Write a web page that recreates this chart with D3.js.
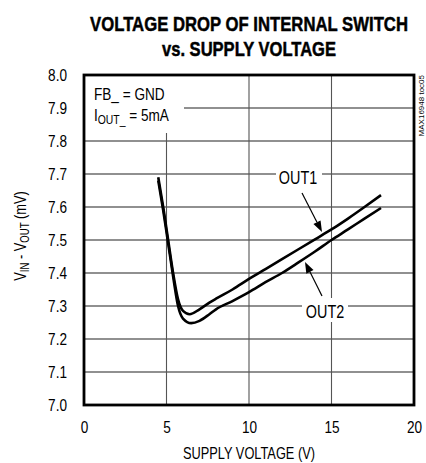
<!DOCTYPE html>
<html><head><meta charset="utf-8">
<script src="https://cdn.jsdelivr.net/npm/d3@7"></script>
<style>
html,body{margin:0;padding:0;background:#fff;}
svg{display:block;}
text{font-family:"Liberation Sans Narrow","Arial Narrow","Liberation Sans",Arial,sans-serif;fill:#000;}
</style></head>
<body>
<svg id="c" width="426" height="463"></svg>
<script>
const xTicks = [0, 5, 10, 15, 20];
const yTicks = [7.0, 7.1, 7.2, 7.3, 7.4, 7.5, 7.6, 7.7, 7.8, 7.9, 8.0];
const out1V = [4.5, 4.8, 5.1, 5.4, 5.7, 6.0, 6.4, 7.0, 7.6, 8.0, 9, 10, 11, 12, 13, 14, 15, 16, 17, 18];
const out1Y = [7.69, 7.6, 7.5, 7.4, 7.32, 7.285, 7.275, 7.29, 7.31, 7.322, 7.35, 7.382, 7.412, 7.442, 7.472, 7.502, 7.532, 7.565, 7.60, 7.636];
const out2V = [4.5, 4.8, 5.1, 5.4, 5.7, 6.0, 6.5, 7.0, 7.6, 8.0, 9, 10, 11, 12, 13, 14, 15, 16, 17, 18];
const out2Y = [7.68, 7.59, 7.49, 7.39, 7.3, 7.262, 7.248, 7.255, 7.275, 7.29, 7.315, 7.342, 7.372, 7.40, 7.432, 7.465, 7.50, 7.532, 7.565, 7.597];
const titleLines = ["VOLTAGE DROP OF INTERNAL SWITCH", "vs. SUPPLY VOLTAGE"];

const svg = d3.select("#c");
const L = 84, R = 414, T = 75, B = 405;
const CX = 0.8; // horizontal condensing
const x = d3.scaleLinear().domain([0, 20]).range([L, R]);
const y = d3.scaleLinear().domain([7.0, 8.0]).range([B, T]);

function ctext(px, py, anchor, size, str, parent) {
  return (parent || svg).append("text")
    .attr("transform", `translate(${px},${py}) scale(${CX},1)`)
    .attr("text-anchor", anchor).attr("font-size", size).text(str);
}

// title: scaled to the measured target widths
[[titleLines[0], 31, 318], [titleLines[1], 56, 174]].forEach(([s, ty, w]) => {
  const t = svg.append("text").attr("text-anchor", "middle")
    .attr("font-weight", "bold").attr("font-size", 21).attr("stroke", "#000").attr("stroke-width", 0.5)
    .text(s);
  const nat = t.node().getComputedTextLength();
  t.attr("transform", `translate(249,${ty}) scale(${w / nat},1)`);
});

// grid
const g = svg.append("g");
g.selectAll(".hg").data(yTicks.slice(1, -1)).enter().append("line")
  .attr("x1", L).attr("x2", R).attr("y1", d => y(d)).attr("y2", d => y(d))
  .attr("stroke", "#222").attr("stroke-width", 1.1);
g.selectAll(".vg").data(xTicks.slice(1, -1)).enter().append("line")
  .attr("y1", T).attr("y2", B).attr("x1", d => x(d)).attr("x2", d => x(d))
  .attr("stroke", "#555").attr("stroke-width", 1.1);

// white boxes behind labels
svg.append("rect").attr("x", L).attr("y", T).attr("width", 100).attr("height", 58).attr("fill", "#fff");
svg.append("rect").attr("x", 276).attr("y", 166).attr("width", 46).attr("height", 22).attr("fill", "#fff");
svg.append("rect").attr("x", 302).attr("y", 298).attr("width", 46).attr("height", 24).attr("fill", "#fff");

// curves
const line = d3.line().x(d => x(d[0])).y(d => y(d[1])).curve(d3.curveMonotoneX);
const s1 = out1V.map((v, i) => [v, out1Y[i]]);
const s2 = out2V.map((v, i) => [v, out2Y[i]]);
[s1, s2].forEach(s => svg.append("path").datum(s).attr("d", line)
  .attr("fill", "none").attr("stroke", "#000").attr("stroke-width", 2.6));

// border
svg.append("rect").attr("x", L).attr("y", T).attr("width", R - L).attr("height", B - T)
  .attr("fill", "none").attr("stroke", "#000").attr("stroke-width", 2.8);

// axes (labels only, condensed)
const ya = d3.axisLeft(y).tickValues(yTicks).tickFormat(d3.format(".1f")).tickSize(0).tickPadding(17);
const yg = svg.append("g").attr("transform", `translate(${L},0)`).call(ya);
const xa = d3.axisBottom(x).tickValues(xTicks).tickFormat(d3.format("d")).tickSize(0).tickPadding(16);
const xg = svg.append("g").attr("transform", `translate(0,${B})`).call(xa);
[yg, xg].forEach(a => {
  a.select(".domain").remove();
  a.selectAll("text").attr("font-size", 17).attr("font-family", null)
    .attr("x", function () { return (+d3.select(this).attr("x") || 0) / CX; })
    .attr("transform", `scale(${CX},1)`);
});

// axis titles
ctext(249, 459, "middle", 16, "SUPPLY VOLTAGE (V)");
const yt = svg.append("text").attr("transform", `translate(26,236) rotate(-90) scale(${CX},1)`)
  .attr("text-anchor", "middle").attr("font-size", 16);
yt.append("tspan").text("V");
yt.append("tspan").attr("font-size", 12).attr("dy", 3).text("IN");
yt.append("tspan").attr("dy", -3).text(" - V");
yt.append("tspan").attr("font-size", 12).attr("dy", 3).text("OUT");
yt.append("tspan").attr("dy", -3).text(" (mV)");

// conditions
ctext(94, 100, "start", 17, "FB_ = GND");
const t2 = svg.append("text").attr("transform", `translate(94,121) scale(${CX},1)`).attr("font-size", 17);
t2.append("tspan").text("I");
t2.append("tspan").attr("font-size", 13).attr("dy", 3).text("OUT_");
t2.append("tspan").attr("dy", -3).text(" = 5mA");

// labels & arrows
ctext(298, 184, "middle", 18, "OUT1");
ctext(325, 318, "middle", 18, "OUT2");
function arrow(x1, y1, x2, y2) {
  const a = Math.atan2(y2 - y1, x2 - x1), len = 11, w = 4;
  const bx = x2 - len * Math.cos(a), by = y2 - len * Math.sin(a);
  svg.append("line").attr("x1", x1).attr("y1", y1).attr("x2", bx).attr("y2", by).attr("stroke", "#000").attr("stroke-width", 1.2);
  const px = -Math.sin(a) * w, py = Math.cos(a) * w;
  svg.append("path").attr("d", `M${x2},${y2}L${bx + px},${by + py}L${bx - px},${by - py}Z`).attr("fill", "#000");
}
arrow(302, 193, 322, 232);
arrow(322, 296, 305, 262);

// watermark
svg.append("text").attr("transform", "translate(424,75) rotate(-90)").attr("text-anchor", "end")
  .attr("font-size", 8).text("MAX16948 toc05");
</script>
</body></html>
